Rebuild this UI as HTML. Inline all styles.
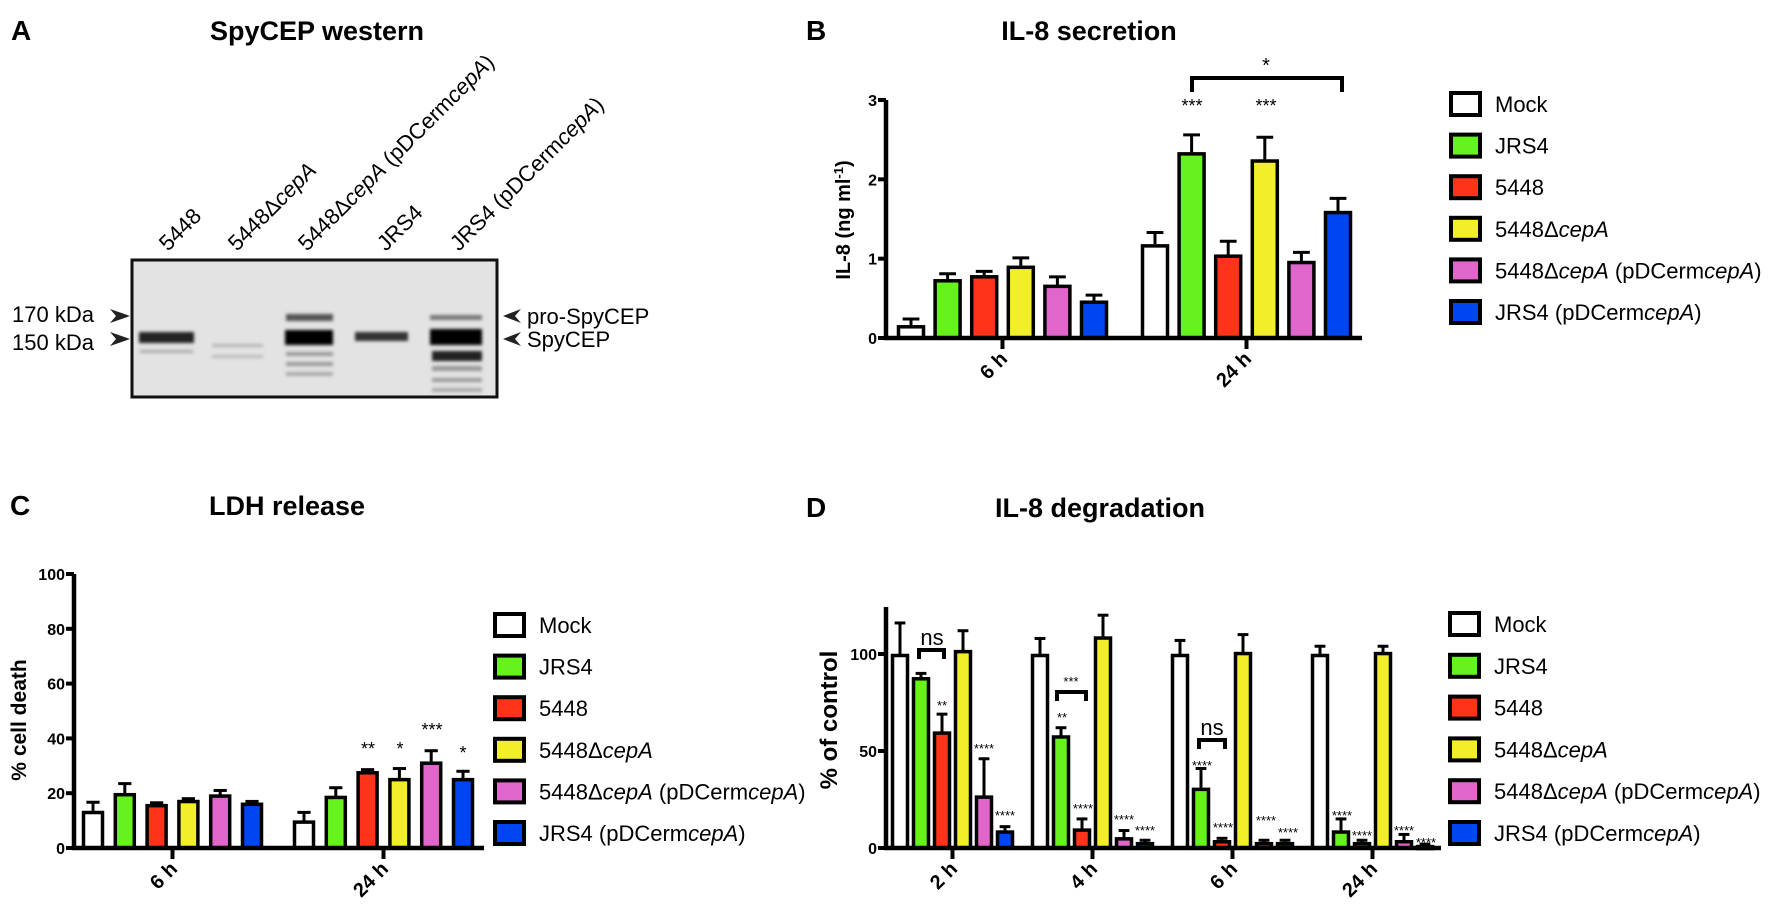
<!DOCTYPE html>
<html><head><meta charset="utf-8">
<style>
html,body{margin:0;padding:0;background:#fff;}
svg{display:block;font-family:"Liberation Sans",Arial,sans-serif;}
.b{font-weight:bold;}
</style></head>
<body>
<svg id="fig" width="1772" height="915" viewBox="0 0 1772 915" xmlns="http://www.w3.org/2000/svg">
<defs>
<filter id="blur1" x="-20%" y="-50%" width="140%" height="200%"><feGaussianBlur stdDeviation="1.6"/></filter>
</defs>

<!-- Panel A -->
<g>
<text x="11" y="40" font-size="28" class="b">A</text>
<text x="317" y="40" font-size="27" class="b" text-anchor="middle">SpyCEP western</text>
<g font-size="22">
<text transform="translate(168,252) rotate(-45)">5448</text>
<text transform="translate(237,252) rotate(-45)">5448Δ<tspan font-style="italic">cepA</tspan></text>
<text transform="translate(307,252) rotate(-45)">5448Δ<tspan font-style="italic">cepA</tspan> (pDCerm<tspan font-style="italic">cepA</tspan>)</text>
<text transform="translate(386,252) rotate(-45)">JRS4</text>
<text transform="translate(459,252) rotate(-45)">JRS4 (pDCerm<tspan font-style="italic">cepA</tspan>)</text>
</g>
<g>
<rect x="132" y="260" width="365" height="137" fill="#e3e3e3" stroke="#111" stroke-width="3"/>
<g filter="url(#blur1)">
<rect x="139" y="332" width="55" height="11" fill="#222"/>
<rect x="140" y="350" width="53" height="3" fill="#aaa"/>
<rect x="212" y="344" width="51" height="3" fill="#b5b5b5"/>
<rect x="212" y="355" width="51" height="3" fill="#bbb"/>
<rect x="286" y="314" width="47" height="7" fill="#555"/>
<rect x="285" y="330" width="48" height="15" fill="#050505"/>
<rect x="286" y="352" width="47" height="4" fill="#999"/>
<rect x="286" y="362" width="47" height="4" fill="#999"/>
<rect x="286" y="372" width="47" height="4" fill="#aaa"/>
<rect x="355" y="332" width="53" height="9" fill="#333"/>
<rect x="430" y="315" width="52" height="5" fill="#777"/>
<rect x="430" y="329" width="52" height="16" fill="#050505"/>
<rect x="432" y="351" width="50" height="10" fill="#222"/>
<rect x="432" y="366" width="50" height="5" fill="#999"/>
<rect x="432" y="378" width="50" height="4" fill="#999"/>
<rect x="432" y="388" width="50" height="4" fill="#aaa"/>
</g>
</g>
<g font-size="22">
<text x="12" y="322">170 kDa</text>
<text x="12" y="350">150 kDa</text>
<path d="M110,309 L130,316 L110,323 L116,316 Z" fill="#222"/>
<path d="M110,332 L130,339 L110,346 L116,339 Z" fill="#222"/>
<path d="M521,309 L503,316 L521,323 L515,316 Z" fill="#222"/>
<path d="M521,332 L503,339 L521,346 L515,339 Z" fill="#222"/>
<text x="527" y="324">pro-SpyCEP</text>
<text x="527" y="347">SpyCEP</text>
</g>
</g>

<g id="panelB">
<text x="806" y="40" font-size="28" class="b">B</text>
<text x="1089" y="40" font-size="27" class="b" text-anchor="middle">IL-8 secretion</text>
<text transform="translate(850,220) rotate(-90)" font-size="20" class="b" text-anchor="middle">IL-8 (ng ml<tspan baseline-shift="super" font-size="13">-1</tspan>)</text>
</g>
<g id="panelC">
<text x="10" y="515" font-size="28" class="b">C</text>
<text x="287" y="515" font-size="27" class="b" text-anchor="middle">LDH release</text>
<text transform="translate(26,720) rotate(-90)" font-size="21" class="b" text-anchor="middle">% cell death</text>
</g>
<g id="panelD">
<text x="806" y="517" font-size="28" class="b">D</text>
<text x="1100" y="517" font-size="27" class="b" text-anchor="middle">IL-8 degradation</text>
<text transform="translate(837,720) rotate(-90)" font-size="24" class="b" text-anchor="middle">% of control</text>
</g>
</svg>

<script>
// ---- shared series ----
const strains = ["Mock","JRS4","5448","5448ΔcepA","5448ΔcepA (pDCermcepA)","JRS4 (pDCermcepA)"];
const colors = ["#ffffff","#66f21c","#ff3319","#f2ee2a","#e066cc","#0046f0"];

// ---- Panel B data ----
const bTimes = ["6 h","24 h"];
const bMeans = [[0.16,0.74,0.79,0.91,0.67,0.47],[1.18,2.34,1.05,2.25,0.97,1.60]];
const bErrs  = [[0.24,0.81,0.84,1.01,0.77,0.54],[1.33,2.56,1.22,2.53,1.08,1.76]];
const bTicks = [0,1,2,3];

// ---- Panel C data ----
const cTimes = ["6 h","24 h"];
const cMeans = [[13.5,20,16,17.5,19.5,16.5],[10,19,28,25.5,31.5,25.5]];
const cErrs  = [[16.7,23.5,16.5,18,21,17],[13,22,28.6,29,35.5,28]];
const cTicks = [0,20,40,60,80,100];

// ---- Panel D data ----
const dTimes = ["2 h","4 h","6 h","24 h"];
const dMeans = [[100,88,60,102,27,9],[100,58,10,109,5.5,3],[100,31,4,101,3,3],[100,9,3,101,4,1.5]];
const dErrs  = [[116,90,69,112,46,11],[108,62,15,120,9,4],[107,41,5,110,4,4],[104,15,4,104,7,2]];
const dTicks = [0,50,100];

const NS = "http://www.w3.org/2000/svg";
function mk(parent, tag, attrs){
  const e = document.createElementNS(NS, tag);
  for (const k in attrs) e.setAttribute(k, attrs[k]);
  parent.appendChild(e);
  return e;
}

function drawChart(g, o, times, means, errs, ticks){
  const yS = v => o.y0 - (v - 0) / (o.yMax) * (o.y0 - o.yTop);
  // bars
  means.forEach((grp, gi) => {
    grp.forEach((v, si) => {
      const x = o.x0 + gi*o.gp + si*o.bp;
      const top = yS(v), et = yS(errs[gi][si]);
      const cx = x + o.bw/2;
      const el = mk(g, "line", {x1:cx, x2:cx, y1:top, y2:et, stroke:"#000", "stroke-width":3});
      
      
      const cap = mk(g, "line", {x1:cx-o.bw*0.3, x2:cx+o.bw*0.3, y1:et, y2:et, stroke:"#000", "stroke-width":3});
      
      
      const r = mk(g, "rect", {x:x+1.5, y:Math.min(top, o.y0-2)+1.5, width:o.bw-3, height:Math.max(o.y0-top-1.5, 2), fill:colors[si], stroke:"#000", "stroke-width":3.5});
      
      
    });
  });
  // axes
  const ya = mk(g, "line", {x1:o.ax, x2:o.ax, y1:o.axTop, y2:o.y0+2, stroke:"#000", "stroke-width":4.5});
  
  
  const xa = mk(g, "line", {x1:o.ax-2, x2:o.axEnd, y1:o.y0, y2:o.y0, stroke:"#000", "stroke-width":4.5});
  
  
  ticks.forEach(t => {
    const y = yS(t);
    const tl = mk(g, "line", {x1:o.ax-8, x2:o.ax, y1:y, y2:y, stroke:"#000", "stroke-width":4});
    
    
    const tx = mk(g, "text", {x:o.ax-9, y:y+6, "font-size":o.tfs, "font-weight":"bold", "text-anchor":"end"});
    tx.textContent = t;
    
    
  });
  times.forEach((t, gi) => {
    const cx = o.x0 + gi*o.gp + (5*o.bp + o.bw)/2;
    const tl = mk(g, "line", {x1:cx, x2:cx, y1:o.y0, y2:o.y0+11, stroke:"#000", "stroke-width":4});
    
    
    const tx = mk(g, "text", {transform:`translate(${cx+6},${o.y0+22}) rotate(-45)`, "font-size":20, "font-weight":"bold", "text-anchor":"end"});
    tx.textContent = t;
    
    
  });
  // legend
  strains.forEach((s, i) => {
    const y = o.ly + i*o.lsp;
    const r = mk(g, "rect", {x:o.lx, y:y-11, width:29, height:22, fill:colors[i], stroke:"#000", "stroke-width":4});
    
    
    const tx = mk(g, "text", {x:o.lx+44, y:y+8, "font-size":22});
    
    
    const parts = s.split(/(cepA)/);
    parts.forEach(p => {
      if (!p) return;
      const ts = mk(tx, "tspan", {});
      if (p === "cepA") ts.setAttribute("font-style", "italic");
      ts.textContent = p;
    });
  });
  return yS;
}

function star(g, x, y, txt, fs){
  const t = mk(g, "text", {x:x, y:y, "font-size":fs, "text-anchor":"middle"});
  t.textContent = txt;
  
  
}
function bracket(g, x1, x2, y, d){
  const p = mk(g, "path", {d:`M${x1},${y+d} L${x1},${y} L${x2},${y} L${x2},${y+d}`, fill:"none", stroke:"#000", "stroke-width":4});
  
  
}

const gB = document.getElementById("panelB");
drawChart(gB, {x0:897, bp:36.6, bw:28, gp:244, y0:338, yTop:100, yMax:3, ax:886, axTop:100, axEnd:1362, tfs:16, lx:1451, ly:104, lsp:41.6}, bTimes, bMeans, bErrs, bTicks);
bracket(gB, 1192, 1342, 78, 14);
star(gB, 1266, 72, "*", 20);
star(gB, 1192, 112, "***", 18);
star(gB, 1266, 112, "***", 18);

const gC = document.getElementById("panelC");
drawChart(gC, {x0:82, bp:31.8, bw:22, gp:211, y0:848, yTop:574, yMax:100, ax:74, axTop:574, axEnd:484, tfs:16, lx:495, ly:625, lsp:41.6}, cTimes, cMeans, cErrs, cTicks);
star(gC, 368, 755, "**", 18);
star(gC, 400, 755, "*", 18);
star(gC, 432, 736, "***", 18);
star(gC, 463, 759, "*", 18);

const gD = document.getElementById("panelD");
drawChart(gD, {x0:891, bp:21, bw:18, gp:140, y0:848, yTop:654, yMax:100, ax:886, axTop:607, axEnd:1441, tfs:16, lx:1450, ly:624, lsp:41.8}, dTimes, dMeans, dErrs, dTicks);
bracket(gD, 919, 944, 650, 9);
star(gD, 932, 645, "ns", 22);
star(gD, 942, 710, "**", 13);
star(gD, 984, 753, "****", 13);
star(gD, 1005, 820, "****", 13);
bracket(gD, 1057, 1086, 692, 9);
star(gD, 1071, 686, "***", 13);
star(gD, 1062, 722, "**", 13);
star(gD, 1083, 813, "****", 13);
star(gD, 1124, 824, "****", 13);
star(gD, 1145, 835, "****", 13);
bracket(gD, 1199, 1225, 740, 9);
star(gD, 1212, 735, "ns", 22);
star(gD, 1202, 770, "****", 13);
star(gD, 1223, 832, "****", 13);
star(gD, 1266, 825, "****", 13);
star(gD, 1288, 837, "****", 13);
star(gD, 1342, 820, "****", 13);
star(gD, 1362, 840, "****", 13);
star(gD, 1404, 835, "****", 13);
star(gD, 1426, 847, "****", 13);
</script>
</body></html>
